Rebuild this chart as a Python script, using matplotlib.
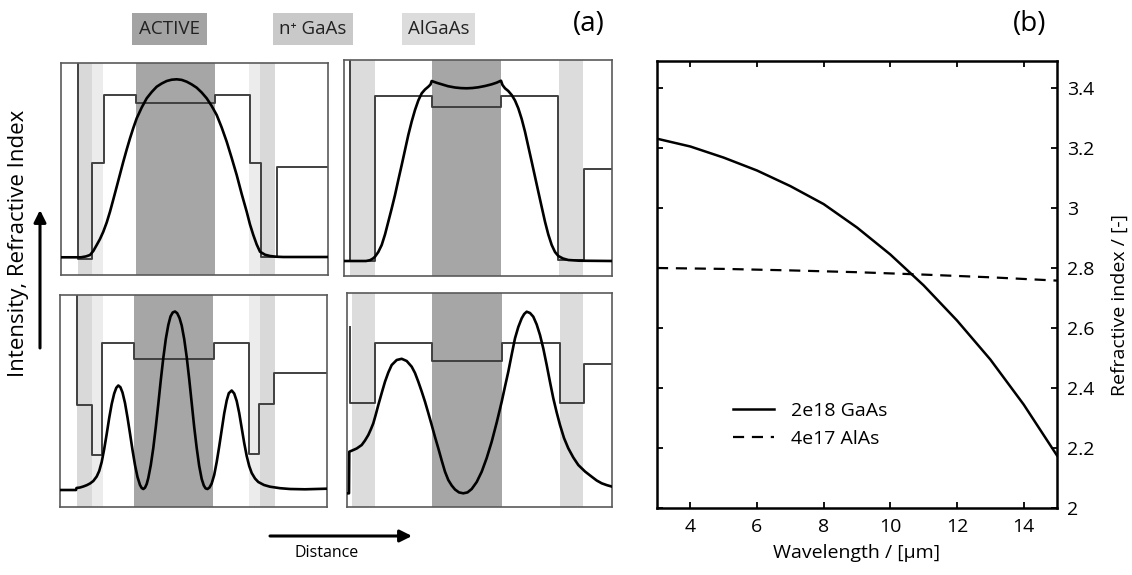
import matplotlib
matplotlib.use("Agg")
import matplotlib.pyplot as plt
from matplotlib.patches import Rectangle

plt.rcParams['font.family'] = ['Open Sans', 'DejaVu Sans']

W, H = 1132, 575
fig = plt.figure(figsize=(W / 100, H / 100), dpi=100)

# ---------------- data: panel (a) ----------------
# top-left panel (distance and intensity/index in arbitrary units)
tl_outer = [(16.7, 31.3), (199.0, 214.0)]
tl_inner = [(31.3, 42.3), (188.0, 199.0)]
tl_active = (75.0, 154.0)
tl_index_x = [16.7, 16.7, 31.3, 43.3, 75.0, 154.0, 189.0, 199.7, 215.7, 267.0]
tl_index_y = [230.0, 16.0, 111.7, 180.0, 171.7, 180.0, 112.3, 18.3, 107.7, 107.7]
tl_int_x = [0, 20, 25, 29, 32.3, 35.7, 39, 42.3, 45.7, 49, 52.3, 55.7, 59, 62.3, 65.7, 69, 72.3,
            75.7, 80.7, 85.7, 90.7, 95.7, 100.7, 105.7, 110.7, 115.7, 120.7, 125.7, 130.7, 135.7,
            140.7, 145.7, 150.7, 155.7, 160.7, 165.7, 170.7, 175.7, 180.7, 185.7, 189, 192.3,
            195.7, 199, 204, 209, 215, 222.3, 267]
tl_int_y = [17.7, 17.7, 18.6, 20, 24, 30, 36, 43.3, 52.5, 63.3, 75.5, 88.3, 100.8, 113.3, 125.5,
            136.7, 147, 156.7, 167.5, 176.7, 183, 188.3, 191.5, 194, 195.3, 195.7, 195.1, 193.3,
            190.6, 187.3, 182.5, 176.7, 169, 160, 147.5, 133.3, 117, 100, 81, 63.3, 50.5, 40,
            30.5, 23.3, 20.3, 19, 18.3, 18, 18]

# top-right panel
tr_bands = [(6.0, 31.0), (215.0, 239.3)]
tr_active = (87.7, 157.0)
tr_index_x = [6.0, 6.0, 31.0, 87.7, 157.0, 214.3, 240.3, 268.0]
tr_index_y = [230.0, 15.0, 180.3, 169.3, 180.3, 16.0, 107.0, 107.0]
tr_int_x = [0, 22, 26, 29, 31, 34.3, 37.7, 41, 44.3, 47.7, 51, 54.3, 57.7, 61, 64.3, 67.7, 71,
            74.3, 77.7, 81, 84.3, 86.5, 87.7, 92.7, 97.7, 104, 111, 117, 122.7, 128.5, 134.3,
            141, 147.7, 152.5, 157, 158.5, 161, 164.3, 167.7, 171, 174.3, 177.7, 181, 184.3,
            187.7, 191, 194.3, 197.7, 201, 204.3, 207.7, 211, 214.3, 219, 224.3, 235, 268]
tr_int_y = [15, 15, 15.8, 17.5, 19.3, 24, 31, 41.5, 54.3, 67.5, 81, 96, 111, 126, 141, 154.5, 166,
            175.5, 182.7, 186.5, 189.3, 191.5, 195, 193.2, 191.7, 189.8, 188.5, 187.9, 187.7, 188,
            188.7, 190, 191.7, 193.3, 195.3, 191, 187.7, 185, 181, 175.5, 167.7, 157, 144.3, 129.5,
            114.3, 99.3, 84.3, 69, 54.3, 41.5, 31, 24, 20, 17.5, 16, 15.3, 15]

# bottom-left panel
bl_outer = [(16.7, 32.3), (200.0, 215.0)]
bl_inner = [(32.3, 43.3), (189.3, 200.0)]
bl_active = (74.0, 152.7)
bl_index_x = [16.7, 16.7, 31.7, 42.3, 74.0, 154.0, 189.3, 199.3, 214.0, 267.0]
bl_index_y = [230.0, 102.0, 52.0, 163.7, 148.0, 163.7, 52.7, 103.0, 133.7, 133.7]
bl_int_x = [0, 16, 16.5, 20, 23.3, 26.7, 30, 33.3, 36.7, 39.2, 41.7, 44.2, 46.7, 49.2, 51.7, 54.2,
            56.3, 58.3, 60.4, 62.5, 65, 67.5, 70, 72.5, 75, 77.5, 80, 81.7, 83.3, 85, 86.7, 88.3,
            90.8, 93.3, 95.8, 98.3, 100.8, 103.3, 105.8, 108.3, 110.5, 112.7, 115, 117.2, 119.5,
            121.7, 124.2, 126.7, 129.2, 131.7, 134.2, 136.7, 139.2, 141.7, 143.8, 145.6, 147.5,
            149.5, 151.7, 154.2, 156.7, 159.2, 161.7, 164.2, 166.7, 168.8, 171.7, 174.2, 176.7,
            179.2, 181.7, 184.2, 186.7, 189.2, 191.7, 195, 198.3, 204, 210, 220, 230, 245, 267]
bl_int_y = [17, 17, 19, 19.5, 20.5, 21.8, 23.5, 26, 30.5, 36, 45, 58, 73, 89, 103, 113.5, 119.2,
            121.5, 119.8, 114.5, 104, 89.5, 73.5, 57, 42, 30, 22, 19, 18, 19.3, 23, 29, 42, 59,
            80, 103, 127, 149, 168, 182, 190.5, 194.5, 195.5, 193.8, 189, 181.5, 168, 150, 128,
            104, 80, 59, 41, 28, 21.5, 18.6, 18, 19.5, 23.5, 32, 45, 60.5, 77, 93.5, 106.5, 113.8,
            116.5, 113.5, 106, 94, 79, 64, 51, 41, 34, 28.5, 25, 22, 20.3, 18.8, 18, 17.7, 18.3]

# bottom-right panel
br_bands = [(4.7, 28.0), (213.0, 236.3)]
br_active = (84.7, 154.7)
br_index_x = [3.0, 3.0, 28.0, 84.7, 154.7, 213.0, 237.3, 265.0]
br_index_y = [180.3, 103.7, 163.7, 146.0, 163.7, 103.7, 142.7, 142.7]
br_int_x = [0, 2, 2.3, 4.7, 9.7, 14.7, 18, 21.3, 24, 26.3, 28.8, 31.3, 34.7, 38, 41.3, 44.7, 49.7,
            54.7, 59.7, 64.7, 68, 71.3, 74.7, 78, 81.3, 84.7, 88, 91.3, 94.7, 98, 101.3, 104.7,
            108, 112, 116.3, 120.5, 124.7, 129.7, 134.7, 139.7, 144.7, 149.7, 154.7, 158, 161.3,
            164.7, 168, 171.3, 174.7, 177.2, 179.7, 183, 186.3, 189.7, 193, 196.3, 199.7, 203,
            206.3, 209.7, 213, 217, 221.3, 226.3, 231.3, 238, 244.7, 249.7, 254.7, 260, 265.3]
br_int_y = [13.7, 13.7, 55.3, 56.3, 58.5, 62, 66.5, 72, 78, 83.7, 92.5, 102, 114, 125.3, 134.5,
            142, 147, 148.2, 146, 140.3, 134, 125.3, 115.5, 105.3, 94, 82, 70, 58.7, 46.5, 35.3,
            27, 21.5, 17.5, 14.6, 13.7, 14.6, 18, 25, 35.3, 49, 65.3, 84.5, 105.3, 120.5, 135.3,
            152.5, 168.7, 180, 188.7, 193, 195.3, 194, 190.3, 182.5, 172, 158.5, 142, 125, 108.7,
            94.5, 82, 69, 58.7, 49.5, 42, 35.5, 30.3, 26.5, 23.7, 21.8, 20.3]

# ---------------- data: panel (b) ----------------
wavelength_gaas = [3, 4, 5, 6, 7, 8, 9, 10, 11, 12, 13, 14, 15]
n_gaas = [3.231, 3.205, 3.168, 3.125, 3.073, 3.013, 2.935, 2.845, 2.742, 2.625, 2.495, 2.345, 2.175]
wavelength_alas = [3, 5, 7, 9, 11, 13, 15]
n_alas = [2.800, 2.797, 2.792, 2.786, 2.778, 2.769, 2.758]
b_xticks = [4, 6, 8, 10, 12, 14]
b_yticks = [2.0, 2.2, 2.4, 2.6, 2.8, 3.0, 3.2, 3.4]
b_yticklabels = ['2', '2.2', '2.4', '2.6', '2.8', '3', '3.2', '3.4']
legend_labels = ['2e18 GaAs', '4e17 AlAs']
region_labels = ['ACTIVE', 'n\u207a GaAs', 'AlGaAs']

# ---------------- styling ----------------
C_ACTIVE = '#a6a6a6'
C_OUTER = '#d9d9d9'
C_INNER = '#ececec'
C_BAND = '#dcdcdc'
C_INDEX = '#404040'
C_FRAME = '#5a5a5a'
FS = 14


def px_axes(l, t, r, b):
    return fig.add_axes([l / W, 1 - b / H, (r - l) / W, (b - t) / H])


def small_panel(box, outer, inner, active, ix, iy, sx, sy):
    l, t, r, b = box
    ax = px_axes(l, t, r, b)
    for x0, x1 in outer:
        ax.axvspan(x0, x1, color=C_OUTER if inner else C_BAND, lw=0, zorder=0)
    for x0, x1 in inner:
        ax.axvspan(x0, x1, color=C_INNER, lw=0, zorder=0)
    ax.axvspan(active[0], active[1], color=C_ACTIVE, lw=0, zorder=0)
    ax.plot(ix, iy, drawstyle='steps-post', color=C_INDEX, lw=1.4, zorder=2)
    ax.plot(sx, sy, color='black', lw=1.9, zorder=3, solid_joinstyle='round')
    ax.set_xlim(0, r - l)
    ax.set_ylim(0, b - t)
    ax.set_xticks([])
    ax.set_yticks([])
    for s in ax.spines.values():
        s.set_color(C_FRAME)
        s.set_linewidth(1.2)
    return ax


small_panel((61, 63, 328, 275), tl_outer, tl_inner, tl_active, tl_index_x, tl_index_y, tl_int_x, tl_int_y)
small_panel((344, 60, 612, 276), tr_bands, [], tr_active, tr_index_x, tr_index_y, tr_int_x, tr_int_y)
small_panel((60, 295, 327, 507), bl_outer, bl_inner, bl_active, bl_index_x, bl_index_y, bl_int_x, bl_int_y)
small_panel((347, 293, 612, 507), br_bands, [], br_active, br_index_x, br_index_y, br_int_x, br_int_y)

# region label boxes
for (l, t, r, b), col, txt in zip([(131.7, 13.3, 206.7, 45), (272.7, 13.3, 353.3, 45), (401.7, 13.3, 475, 45)],
                                  ['#a3a3a3', '#c9c9c9', '#dcdcdc'], region_labels):
    fig.add_artist(Rectangle((l / W, 1 - b / H), (r - l) / W, (b - t) / H, transform=fig.transFigure,
                             facecolor=col, edgecolor='none'))
    fig.text((l + r) / 2 / W, 1 - (t + b) / 2 / H, txt, ha='center', va='center', fontsize=13.5, color='#222222')

fig.text(589 / W, 1 - 24 / H, '(a)', ha='center', va='center', fontsize=20)
fig.text(1030 / W, 1 - 24 / H, '(b)', ha='center', va='center', fontsize=20)

# axis arrows for panel (a)
fig.text(19 / W, 1 - 243 / H, 'Intensity, Refractive Index', rotation=90, ha='center', va='center', fontsize=16)
plt.annotate('', xy=(40, H - 210), xytext=(40, H - 348), xycoords='figure pixels',
             arrowprops=dict(arrowstyle='-|>', lw=2.2, color='black', mutation_scale=18, shrinkA=0, shrinkB=0))
fig.text(327 / W, 1 - 553 / H, 'Distance', ha='center', va='center', fontsize=11.5)
plt.annotate('', xy=(412, H - 536), xytext=(270, H - 536), xycoords='figure pixels',
             arrowprops=dict(arrowstyle='-|>', lw=2.2, color='black', mutation_scale=18, shrinkA=0, shrinkB=0))

# ---------------- panel (b) ----------------
axb = px_axes(657, 61, 1057, 508)
axb.plot(wavelength_gaas, n_gaas, color='black', lw=1.8, label=legend_labels[0])
axb.plot(wavelength_alas, n_alas, color='black', lw=1.6, ls='--', dashes=(5, 3.5), label=legend_labels[1])
axb.set_xlim(3, 15)
axb.set_ylim(2, 3.49)
axb.set_xticks(b_xticks)
axb.set_yticks(b_yticks)
axb.set_yticklabels(b_yticklabels)
axb.tick_params(direction='in', top=True, bottom=True, left=True, right=True,
                labelleft=False, labelright=True, length=4, width=1.3, labelsize=FS, pad=7)
for s in axb.spines.values():
    s.set_linewidth(1.8)
axb.set_xlabel('Wavelength / [\u00b5m]', fontsize=FS, labelpad=6)
fig.text(1120 / W, 1 - 305 / H, 'Refractive index / [-]', rotation=90, ha='center', va='center', fontsize=FS)
axb.legend(loc='upper left', bbox_to_anchor=(733 / W, 1 - 402 / H), bbox_transform=fig.transFigure,
           frameon=False, fontsize=FS, handlelength=2.1, handletextpad=0.9, labelspacing=0.5,
           borderpad=0, borderaxespad=0)

fig.savefig('out.png', dpi=100)
